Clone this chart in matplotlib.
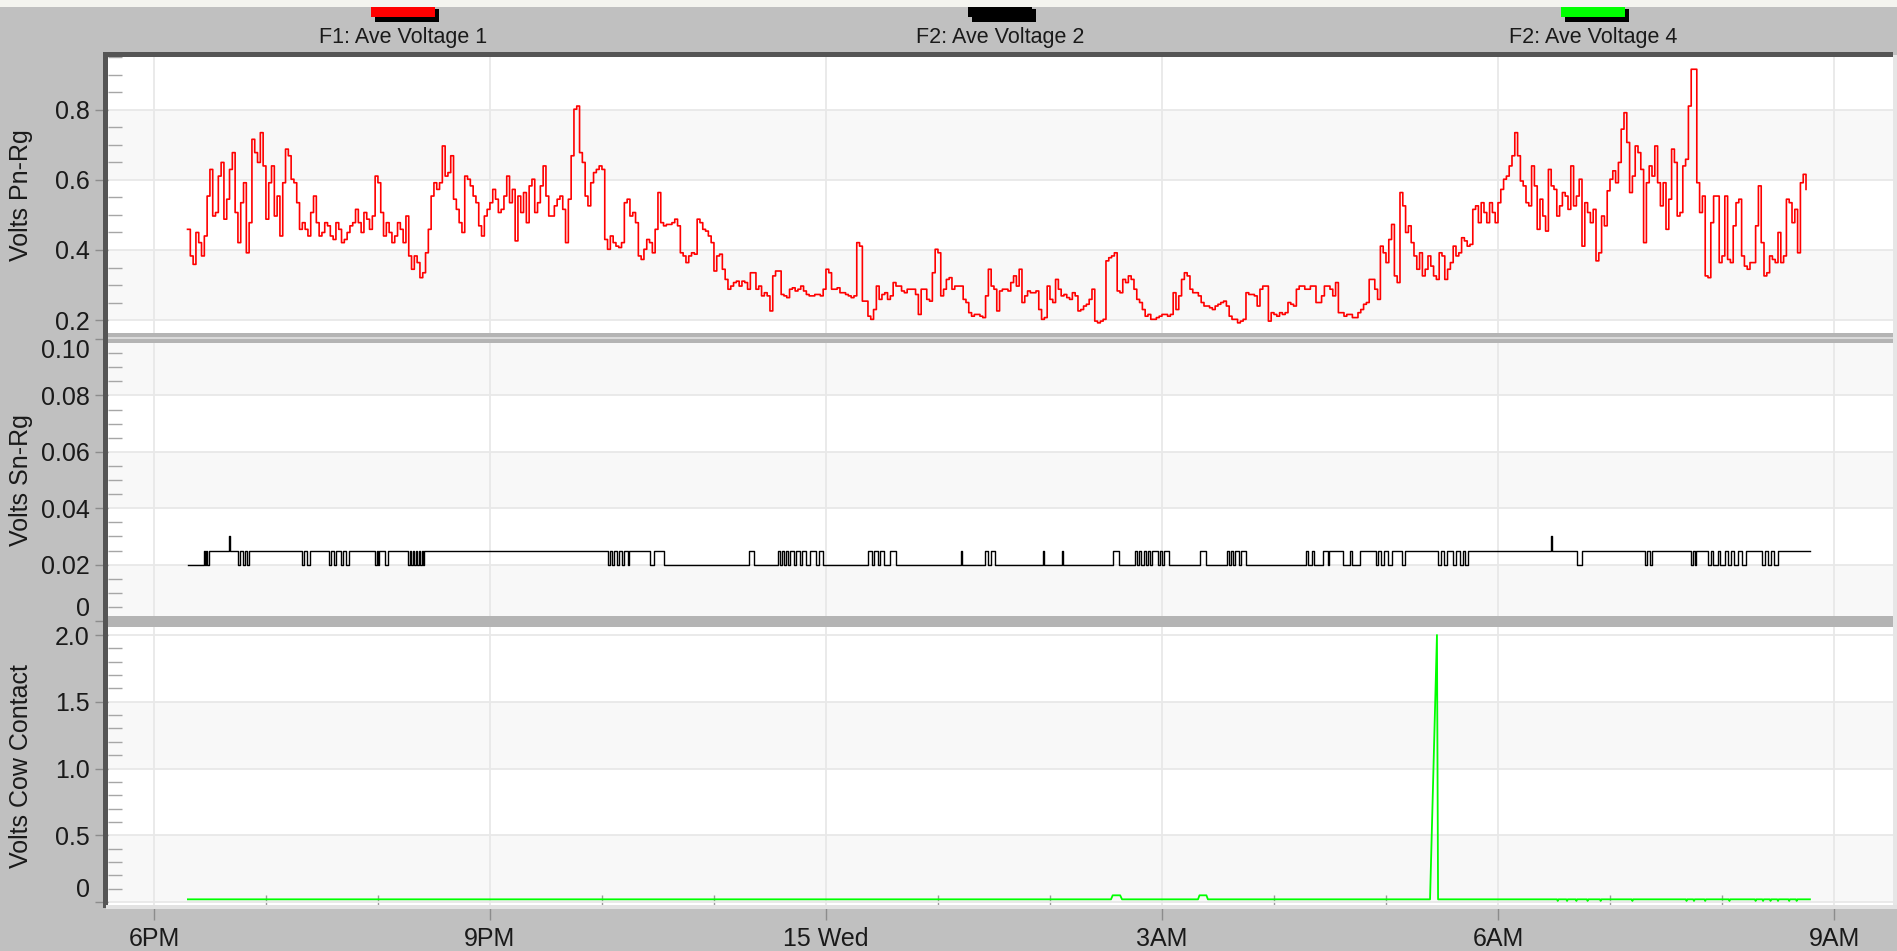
import numpy as np
import matplotlib
matplotlib.use("Agg")
import matplotlib.pyplot as plt
from matplotlib.patches import Rectangle
from matplotlib.ticker import MultipleLocator

# 全局字体 (Arial 的替代)
plt.rcParams["font.family"] = "Liberation Sans"

# -----------------------------
# 数据: 时间单位为 18:00 之后的分钟
# -----------------------------
# Volts Pn-Rg, 每 3 分钟一个读数, 从 18:18 开始
pn_start = 18.0
pn_step = 3.0
pn_rg = [
    0.459, 0.359, 0.421, 0.440, 0.630, 0.507, 0.650, 0.545, 0.678, 0.421,
    0.592, 0.478, 0.678, 0.735, 0.488, 0.640, 0.554, 0.592, 0.669, 0.592,
    0.459, 0.459, 0.507, 0.478, 0.450, 0.469, 0.430, 0.459, 0.430, 0.469,
    0.516, 0.450, 0.488, 0.497, 0.592, 0.440, 0.450, 0.440, 0.459, 0.497,
    0.345, 0.364, 0.335, 0.459, 0.592, 0.592, 0.611, 0.669, 0.516, 0.450,
    0.602, 0.554, 0.469, 0.497, 0.535, 0.545, 0.516, 0.611, 0.573, 0.554,
    0.564, 0.583, 0.507, 0.583, 0.554, 0.497, 0.545, 0.516, 0.545, 0.802,
    0.678, 0.554, 0.592, 0.630,
    0.630, 0.402, 0.421, 0.407, 0.535, 0.497, 0.478, 0.373, 0.430, 0.392,
    0.564, 0.469, 0.473, 0.488, 0.392, 0.364, 0.392, 0.488, 0.459, 0.440,
    0.340, 0.388, 0.316, 0.297, 0.311, 0.311, 0.288, 0.335, 0.297, 0.278,
    0.226, 0.340, 0.273, 0.264, 0.292, 0.288, 0.283, 0.269, 0.273, 0.269,
    0.345, 0.288, 0.292, 0.278, 0.269, 0.269, 0.411, 0.254, 0.202, 0.297,
    0.273, 0.259, 0.307, 0.297, 0.278, 0.288, 0.273, 0.288, 0.259, 0.335,
    0.392, 0.288, 0.321, 0.297, 0.297, 0.250, 0.211, 0.216, 0.207, 0.345,
    0.288, 0.283, 0.288,
    0.307, 0.297, 0.250, 0.283, 0.278, 0.230, 0.207, 0.259, 0.316, 0.269,
    0.264, 0.278, 0.226, 0.240, 0.259, 0.197, 0.197, 0.369, 0.383, 0.283,
    0.316, 0.326, 0.288, 0.250, 0.211, 0.202, 0.207, 0.216, 0.211, 0.278,
    0.269, 0.335, 0.288, 0.278, 0.250, 0.240, 0.230, 0.245, 0.254, 0.211,
    0.202, 0.197, 0.278, 0.273, 0.240, 0.297, 0.197, 0.216, 0.221, 0.221,
    0.245, 0.288, 0.297, 0.288, 0.297, 0.250, 0.297, 0.288, 0.307, 0.221,
    0.216, 0.207, 0.221, 0.245, 0.316, 0.288, 0.411, 0.364, 0.473, 0.307,
    0.526, 0.469, 0.383,
    0.392, 0.345, 0.354, 0.316, 0.383, 0.345, 0.411, 0.392, 0.426, 0.416,
    0.526, 0.535, 0.478, 0.507, 0.535, 0.602, 0.640, 0.735, 0.597, 0.535,
    0.640, 0.459, 0.497, 0.630, 0.573, 0.526, 0.554, 0.640, 0.554, 0.411,
    0.507, 0.516, 0.392, 0.469, 0.602, 0.592, 0.745, 0.707, 0.611, 0.678,
    0.421, 0.640, 0.697, 0.526, 0.459, 0.688, 0.497, 0.640, 0.811, 0.916,
    0.507, 0.326, 0.478, 0.554, 0.383, 0.373, 0.469, 0.545, 0.354, 0.364,
    0.469, 0.421, 0.335, 0.373, 0.450, 0.383, 0.535, 0.516, 0.592, 0.573,
]
# 每两个读数之间 (偏移 1.5 分钟) 的读数
pn_rg_half = [
    0.383, 0.450, 0.383, 0.554, 0.497, 0.611, 0.488, 0.630, 0.507, 0.535,
    0.392, 0.716, 0.650, 0.640, 0.592, 0.497, 0.440, 0.688, 0.602, 0.535,
    0.478, 0.440, 0.554, 0.440, 0.478, 0.440, 0.478, 0.421, 0.450, 0.478,
    0.478, 0.507, 0.459, 0.611, 0.507, 0.478, 0.421, 0.478, 0.421, 0.383,
    0.383, 0.321, 0.392, 0.554, 0.573, 0.697, 0.621, 0.545, 0.478, 0.611,
    0.583, 0.535, 0.440, 0.516, 0.573, 0.507, 0.554, 0.535, 0.426, 0.507,
    0.478, 0.602, 0.535, 0.640, 0.497, 0.526, 0.554, 0.421, 0.669, 0.811,
    0.650, 0.526, 0.621, 0.640,
    0.430, 0.440, 0.411, 0.421, 0.545, 0.507, 0.383, 0.402, 0.421, 0.459,
    0.478, 0.473, 0.478, 0.469, 0.383, 0.383, 0.388, 0.478, 0.454, 0.421,
    0.383, 0.345, 0.288, 0.307, 0.297, 0.307, 0.335, 0.288, 0.269, 0.269,
    0.326, 0.340, 0.269, 0.288, 0.283, 0.297, 0.273, 0.269, 0.273, 0.288,
    0.335, 0.288, 0.278, 0.273, 0.264, 0.421, 0.254, 0.211, 0.230, 0.259,
    0.278, 0.269, 0.297, 0.283, 0.288, 0.288, 0.216, 0.288, 0.254, 0.402,
    0.269, 0.316, 0.288, 0.297, 0.259, 0.221, 0.216, 0.211, 0.269, 0.297,
    0.226, 0.288, 0.283,
    0.326, 0.345, 0.269, 0.278, 0.283, 0.202, 0.297, 0.250, 0.288, 0.273,
    0.259, 0.269, 0.230, 0.245, 0.288, 0.192, 0.202, 0.378, 0.392, 0.278,
    0.307, 0.316, 0.259, 0.230, 0.216, 0.202, 0.211, 0.216, 0.216, 0.230,
    0.316, 0.326, 0.278, 0.269, 0.240, 0.235, 0.240, 0.250, 0.240, 0.202,
    0.192, 0.202, 0.273, 0.269, 0.288, 0.297, 0.221, 0.211, 0.216, 0.250,
    0.240, 0.297, 0.288, 0.297, 0.250, 0.269, 0.297, 0.269, 0.221, 0.211,
    0.216, 0.207, 0.230, 0.250, 0.316, 0.259, 0.392, 0.430, 0.326, 0.564,
    0.450, 0.421, 0.345,
    0.326, 0.383, 0.326, 0.392, 0.316, 0.364, 0.383, 0.435, 0.411, 0.516,
    0.478, 0.507, 0.535, 0.478, 0.573, 0.611, 0.669, 0.669, 0.583, 0.526,
    0.583, 0.545, 0.454, 0.583, 0.497, 0.564, 0.516, 0.526, 0.602, 0.535,
    0.478, 0.369, 0.497, 0.569, 0.626, 0.650, 0.792, 0.564, 0.697, 0.630,
    0.592, 0.611, 0.592, 0.592, 0.545, 0.650, 0.507, 0.659, 0.916, 0.592,
    0.554, 0.321, 0.554, 0.364, 0.554, 0.364, 0.535, 0.383, 0.345, 0.364,
    0.583, 0.326, 0.383, 0.364, 0.364, 0.545, 0.478, 0.392, 0.616,
]

# Volts Sn-Rg: 阶梯信号, (开始时间, 基准电平)
sn_sections = [(18.2, 0.020), (29.5, 0.025), (273.2, 0.020), (626.3, 0.025)]
sn_end = 887.1
# 在这些区间内电平切换到另一档 (0.020 <-> 0.025)
sn_flips = [
    (26.8, 27.4), (28.0, 28.6),
    (45.0, 46.1), (47.7, 48.8), (49.8, 50.9), (79.3, 80.4), (82.0, 83.6),
    (93.8, 94.8), (96.4, 97.5), (100.2, 101.2), (102.9, 104.5), (118.4, 119.5),
    (120.0, 120.5), (123.7, 125.4), (136.1, 137.1), (137.7, 138.7), (139.3, 140.4),
    (140.9, 142.0), (142.5, 143.6), (144.1, 144.6), (243.2, 244.3), (245.4, 246.4),
    (248.0, 249.1), (250.7, 251.8), (253.9, 254.5), (265.7, 267.9),
    (318.8, 321.4), (334.3, 335.4), (336.4, 337.5), (338.6, 339.6), (340.7, 342.9),
    (343.9, 346.1), (347.1, 349.3), (351.4, 354.6), (356.2, 358.4), (382.5, 384.6),
    (385.7, 387.9), (388.9, 391.1), (394.3, 397.5), (432.3, 432.9), (445.2, 446.8),
    (448.4, 450.5), (476.2, 476.8), (486.4, 486.9), (513.7, 516.9), (525.5, 526.6),
    (527.7, 528.7), (530.4, 531.4), (532.5, 533.6), (534.6, 537.9), (538.9, 540.0),
    (541.1, 543.8), (560.4, 563.6), (574.8, 575.9), (577.0, 578.0), (579.1, 581.3),
    (582.3, 585.0), (617.1, 618.2), (620.4, 621.4),
    (628.9, 629.5), (637.0, 640.7), (641.8, 646.1), (654.6, 655.7), (657.3, 658.9),
    (661.1, 663.2), (668.6, 670.2), (687.9, 689.5), (691.1, 692.6), (695.9, 697.5),
    (699.6, 701.2), (702.3, 703.9), (762.3, 765.0), (798.7, 799.8), (801.4, 802.5),
    (823.4, 824.5), (825.5, 826.1), (832.4, 834.0), (835.1, 837.9), (838.9, 841.6),
    (843.2, 844.9), (846.4, 848.6), (850.7, 852.8), (861.4, 863.0), (864.6, 866.2),
    (867.9, 870.0),
]
sn_spikes = [40.2, 748.4]
sn_spike_level = 0.030

# Volts Cow Contact
cow_t = [18.2, 512.7, 513.6, 517.6, 518.6, 559.3, 560.1, 563.8, 564.6,
         683.6, 687.3, 687.9, 689.0, 887.1]
cow_v = [0.02, 0.02, 0.05, 0.05, 0.02, 0.02, 0.05, 0.05, 0.02,
         0.02, 2.00, 0.02, 0.02, 0.02]
cow_dips = [752, 757, 762, 768, 775, 792, 821, 825, 831, 844,
            858, 862, 866, 870, 876, 880]
cow_dip_level = 0.008

hour_ticks = [0, 180, 360, 540, 720, 900]
hour_labels = ["6PM", "9PM", "15 Wed", "3AM", "6AM", "9AM"]

legend_names = ["F1: Ave Voltage 1", "F2: Ave Voltage 2", "F2: Ave Voltage 4"]
legend_colors = ["#ff0000", "#000000", "#00ff00"]
legend_x = [403, 1000, 1593]

# -----------------------------
# 整理数据
# -----------------------------
pn_vals = np.empty(len(pn_rg) + len(pn_rg_half))
pn_vals[0::2] = pn_rg
pn_vals[1::2] = pn_rg_half
pn_t = pn_start + pn_step / 2 * np.arange(len(pn_vals))


def sn_base(t):
    lvl = sn_sections[0][1]
    for t0, v in sn_sections:
        if t >= t0:
            lvl = v
    return lvl


sn_pts = list(sn_sections)
for a, b in sn_flips:
    base = sn_base(a)
    sn_pts += [(a, round(0.045 - base, 3)), (b, base)]
for s in sn_spikes:
    sn_pts += [(s, sn_spike_level), (s + 0.3, sn_base(s))]
sn_pts.append((sn_end, sn_base(sn_end)))
sn_pts.sort()
sn_t = [p[0] for p in sn_pts]
sn_v = [p[1] for p in sn_pts]

cow_pts = list(zip(cow_t, cow_v))
for d in cow_dips:
    cow_pts += [(d - 0.4, 0.02), (d, cow_dip_level), (d + 0.4, 0.02)]
cow_pts.sort()
cow_tt = [p[0] for p in cow_pts]
cow_vv = [p[1] for p in cow_pts]

# -----------------------------
# 绘图
# -----------------------------
W, H = 1897, 951
fig = plt.figure(figsize=(W / 100, H / 100), dpi=100, facecolor="#c0c0c0")


def box(x0, y0, x1, y1):
    return [x0 / W, 1 - y1 / H, (x1 - x0) / W, (y1 - y0) / H]


def prect(x0, y0, x1, y1, color, z=5):
    fig.add_artist(Rectangle((x0 / W, 1 - y1 / H), (x1 - x0) / W, (y1 - y0) / H,
                             transform=fig.transFigure, facecolor=color,
                             edgecolor="none", zorder=z))


ax1 = fig.add_axes(box(108, 57, 1893, 333))
ax2 = fig.add_axes(box(108, 339, 1893, 621))
ax3 = fig.add_axes(box(108, 627, 1893, 905))


def style_axis(ax, ylim, yticks, ylabels, minor, bands, ylabel):
    ax.set_facecolor("white")
    ax.set_xlim(-24.6, 931.6)
    ax.set_ylim(*ylim)
    for sp in ax.spines.values():
        sp.set_visible(False)
    for a, b in bands:
        ax.axhspan(a, b, color="#f8f8f8", lw=0, zorder=0)
    ax.set_yticks(yticks)
    ax.set_yticklabels(ylabels)
    ax.yaxis.set_minor_locator(MultipleLocator(minor))
    ax.set_xticks(hour_ticks)
    ax.set_axisbelow(True)
    ax.grid(True, which="major", color="#e8e8e8", lw=1.3)
    ax.tick_params(axis="y", which="major", direction="out", length=9.4, width=1,
                   color="#8c8c8c", labelsize=18, labelcolor="#1a1a1a", pad=3.6)
    ax.tick_params(axis="y", which="minor", direction="in", length=10, width=1,
                   color="#a6a6a6")
    ax.set_ylabel(ylabel, fontsize=18, color="#1a1a1a")
    ax.yaxis.set_label_coords(-0.042, 0.5)


style_axis(ax1, (0.163, 0.951), [0.2, 0.4, 0.6, 0.8], ["0.2", "0.4", "0.6", "0.8"],
           0.05, [(0.2, 0.4), (0.6, 0.8)], "Volts Pn-Rg")
style_axis(ax2, (0.0, 0.10), [0, 0.02, 0.04, 0.06, 0.08, 0.10],
           ["0", "0.02", "0.04", "0.06", "0.08", "0.10"],
           0.005, [(0.0, 0.02), (0.04, 0.06), (0.08, 0.10)], "Volts Sn-Rg")
style_axis(ax3, (-0.0225, 2.06), [0, 0.5, 1.0, 1.5, 2.0], ["0", "0.5", "1.0", "1.5", "2.0"],
           0.1, [(0.0, 0.5), (1.0, 1.5)], "Volts Cow Contact")

# 上两个面板不显示时间刻度
for ax in (ax1, ax2):
    ax.tick_params(axis="x", which="both", length=0, labelbottom=False)

ax3.set_xticklabels(hour_labels)
ax3.xaxis.set_minor_locator(MultipleLocator(60))
ax3.tick_params(axis="x", which="major", direction="out", length=10.8, width=1,
                color="#8c8c8c", labelsize=18, labelcolor="#1a1a1a", pad=4.7)
ax3.tick_params(axis="x", which="minor", direction="in", length=7, width=1,
                color="#9a9a9a")

# 贴边的刻度标签向内收
lbl = ax2.get_yticklabels()
lbl[0].set_va("bottom")
lbl[-1].set_va("top")
ax3.get_yticklabels()[0].set_va("bottom")

ax1.plot(pn_t, pn_vals, color="#ff0000", lw=1.2, drawstyle="steps-post")
ax2.plot(sn_t, sn_v, color="#000000", lw=1.0, drawstyle="steps-post")
ax3.plot(cow_tt, cow_vv, color="#00ff00", lw=1.3)

# 边框与分隔条
prect(0, 0, W, 7, "#f4f4ef")
prect(103, 52, 1893, 57, "#555555")
prect(103, 52, 108, 908, "#555555")
prect(1893, 55, 1897, 908, "#e6e6e6")
prect(106, 905, 1897, 909, "#e2e2e2")
prect(108, 333, 1893, 343, "#b4b4b4")
prect(108, 337, 1893, 339, "#dadada")
prect(108, 616, 1893, 627, "#b4b4b4")

# 图例
for name, color, cx in zip(legend_names, legend_colors, legend_x):
    prect(cx - 28, 9, cx + 36, 22, "#000000", z=6)
    prect(cx - 32, 7, cx + 32, 17, color, z=7)
    fig.text(cx / W, 1 - 37 / H, name, ha="center", va="center",
             fontsize=15.5, color="#1a1a1a")

fig.savefig("out.png", dpi=100, facecolor=fig.get_facecolor())
